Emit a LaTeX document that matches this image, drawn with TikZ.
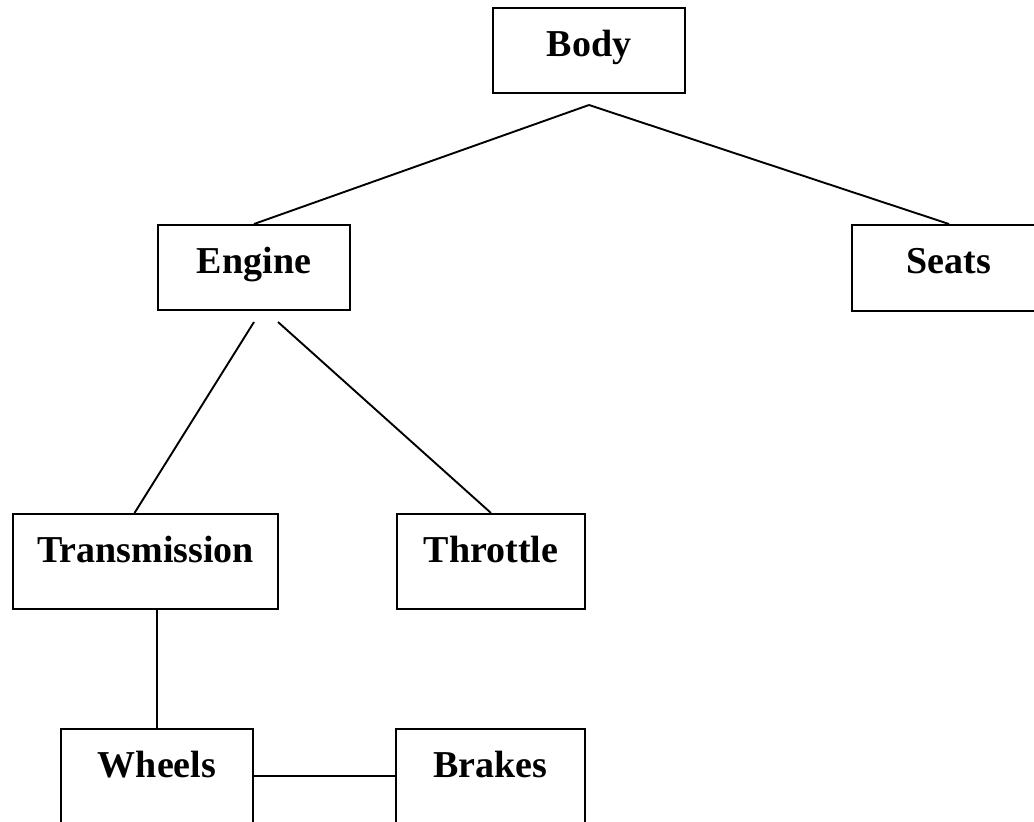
\documentclass[tikz,border=0pt]{standalone}
\usepackage{fontspec}
\setmainfont{Liberation Serif}
\usetikzlibrary{calc}
\tikzset{
  boxnode/.style={draw, line width=2pt, inner sep=0pt, anchor=north west,
    font=\fontsize{38}{44}\selectfont\bfseries, text height=48pt},
  link/.style={line width=1.9pt}
}
\begin{document}
\begin{tikzpicture}[x=1pt,y=-1pt]
\useasboundingbox (0,0) rectangle (1034,822);
\node[boxnode, minimum width=192pt, text depth=37pt] (body) at (492,7) {Body};
\node[boxnode, minimum width=192pt, text depth=37pt] (engine) at (157,224) {Engine};
\node[boxnode, minimum width=194pt, text depth=38pt] (seats) at (851,224) {Seats};
\node[boxnode, minimum width=265pt, text depth=47pt] (transmission) at (12,513) {Transmission};
\node[boxnode, minimum width=188pt, text depth=47pt] (throttle) at (396,513) {Throttle};
\node[boxnode, minimum width=192pt, text depth=52pt] (wheels) at (60,728) {Wheels};
\node[boxnode, minimum width=189pt, text depth=52pt] (brakes) at (395,728) {Brakes};
\coordinate (bj) at ($(body.south)+(0,-11pt)$);
\draw[link] (bj) -- (engine.north);
\draw[link] (bj) -- (seats.north);
\draw[link] ($(engine.south)+(0,-11pt)$) -- ($(transmission.north)+(-11pt,0)$);
\draw[link] ($(engine.south)+(24pt,-11pt)$) -- (throttle.north);
\draw[link] (wheels.north |- transmission.south) -- (wheels.north);
\draw[link] ([yshift=-48pt]wheels.north east) -- ([yshift=-48pt]brakes.north west);
\end{tikzpicture}
\end{document}
